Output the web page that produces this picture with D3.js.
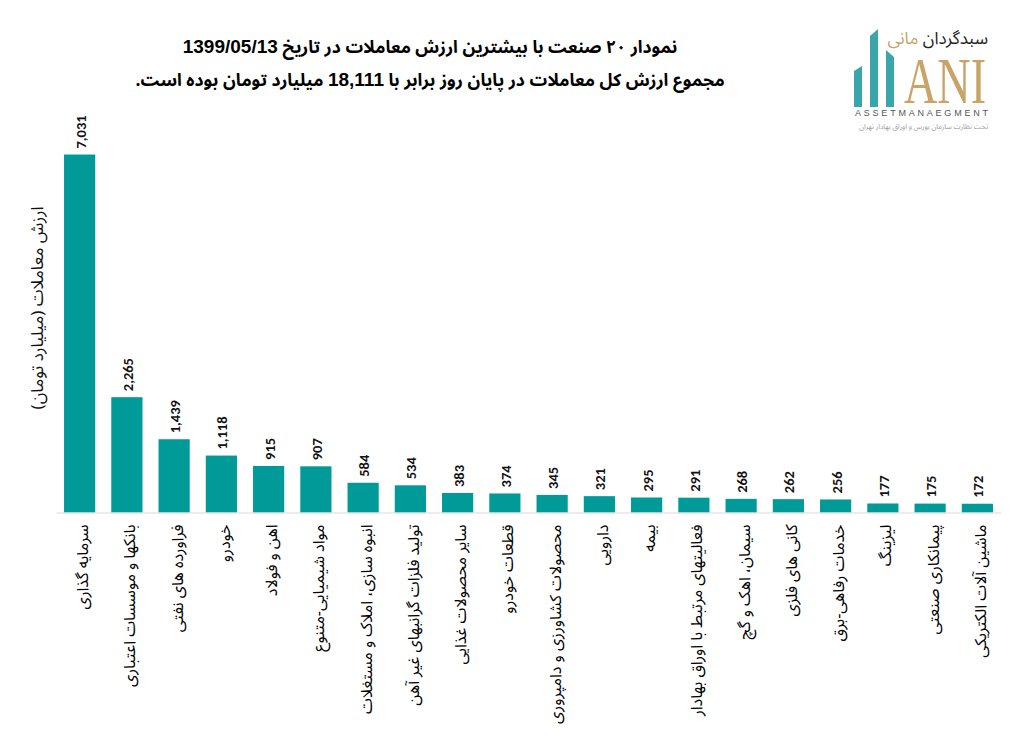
<!DOCTYPE html>
<html>
<head>
<meta charset="utf-8">
<script src="https://cdn.jsdelivr.net/npm/d3@7/dist/d3.min.js"></script>
<style>
  html, body { margin: 0; padding: 0; background: #fff; }
  svg { display: block; }
  .fa { font-family: "Noto Sans Arabic", "DejaVu Sans", "Noto Sans", sans-serif; }
</style>
</head>
<body>
<svg id="chart" width="1011" height="745"></svg>
<script>
const categories = [
  "سرمایه گذاری",
  "بانکها و موسسات اعتباری",
  "فراورده های نفتی",
  "خودرو",
  "اهن و فولاد",
  "مواد شیمیایی-متنوع",
  "انبوه سازی، املاک و مستغلات",
  "تولید فلزات گرانبهای غیر آهن",
  "سایر محصولات غذایی",
  "قطعات خودرو",
  "محصولات کشاورزی و دامپروری",
  "دارویی",
  "بیمه",
  "فعالیتهای مرتبط با اوراق بهادار",
  "سیمان، اهک و گچ",
  "کانی های فلزی",
  "خدمات رفاهی-برق",
  "لیزینگ",
  "پیمانکاری صنعتی",
  "ماشین آلات الکتریکی"
];
const values = [7031, 2265, 1439, 1118, 915, 907, 584, 534, 383, 374, 345, 321, 295, 291, 268, 262, 256, 177, 175, 172];
const yAxisTitle = "ارزش معاملات (میلیارد تومان)";
const titleLine1 = ["نمودار  ۲۰ صنعت با بیشترین ارزش معاملات در تاریخ ", "1399/05/13"];
const titleLine2 = ["مجموع ارزش  کل معاملات در پایان روز برابر با ", "18,111", " میلیارد تومان بوده است."];

const svg = d3.select("#chart");
const baseY = 512.5;

const x = d3.scaleBand().domain(categories).range([56, 1001]).paddingInner(0.34).paddingOuter(0.17);
const y = d3.scaleLinear().domain([0, 8000]).range([baseY, baseY - 407.3]);

// bars
svg.append("g").selectAll("rect").data(values).join("rect")
  .attr("x", (d, i) => x(categories[i]))
  .attr("width", x.bandwidth())
  .attr("y", d => y(d))
  .attr("height", d => y(0) - y(d))
  .attr("fill", "#009B98");

// baseline axis
const xAxis = d3.axisBottom(x).tickSize(0).tickFormat("");
const gx = svg.append("g").attr("transform", `translate(0,${baseY})`).call(xAxis);
gx.select(".domain").attr("stroke", "#d9d9d9").attr("stroke-width", 1.2);

// category labels
svg.append("g").selectAll("text").data(categories).join("text")
  .attr("class", "fa")
  .attr("transform", d => `translate(${x(d) + x.bandwidth() / 2 + 3},${baseY + 12}) rotate(-90)`)
  .attr("direction", "rtl")
  .attr("text-anchor", "start")
  .attr("dy", "0.35em")
  .style("font-size", "16px")
  .attr("fill", "#000")
  .text(d => d);

// value labels
const fmt = d3.format(",");
svg.append("g").selectAll("text").data(values).join("text")
  .attr("transform", (d, i) => `translate(${x(categories[i]) + x.bandwidth() / 2 + 1},${y(d) - 6}) rotate(-90)`)
  .attr("text-anchor", "start")
  .attr("dy", "0.35em")
  .style("font-family", "Calibri, Carlito, 'Liberation Sans', Arial, sans-serif")
  .style("font-size", "14.5px")
  .style("font-weight", "bold")
  .attr("fill", "#111")
  .text(d => fmt(d));

// y axis title
svg.append("text")
  .attr("class", "fa")
  .attr("transform", "translate(37,308) rotate(-90)")
  .attr("direction", "rtl")
  .attr("text-anchor", "middle")
  .attr("dy", "0.35em")
  .style("font-size", "17px")
  .attr("fill", "#111")
  .text(yAxisTitle);

// title
const t1 = svg.append("text").attr("class", "fa").attr("x", 430).attr("y", 53)
  .attr("direction", "rtl").attr("text-anchor", "middle")
  .style("font-size", "17.5px").style("font-weight", "bold").attr("fill", "#000");
t1.append("tspan").text(titleLine1[0]);
t1.append("tspan").style("font-family", "'Liberation Sans', Arial, sans-serif").style("font-size", "19px").text(titleLine1[1]);

const t2 = svg.append("text").attr("class", "fa").attr("x", 430).attr("y", 86)
  .attr("direction", "rtl").attr("text-anchor", "middle")
  .style("font-size", "17.5px").style("font-weight", "bold").attr("fill", "#000");
t2.append("tspan").text(titleLine2[0]);
t2.append("tspan").style("font-family", "'Liberation Sans', Arial, sans-serif").style("font-size", "19px").text(titleLine2[1]);
t2.append("tspan").text(titleLine2[2]);

// logo
const logo = svg.append("g");
const teal = "#3aa6ab";
logo.append("path").attr("fill", teal).attr("d", "M854,71 L862,66 L862,107 L854,107 Z");
logo.append("path").attr("fill", teal).attr("d", "M870,36 L878,29 L878,107 L870,107 Z");
logo.append("path").attr("fill", teal).attr("d", "M886,50 L894,57 L894,107 L886,107 Z");
logo.append("text").attr("transform", "translate(904,103) scale(0.7,1)")
  .style("font-family", "'Liberation Serif', 'DejaVu Serif', serif")
  .style("font-size", "66px").attr("fill", "#c9a469").text("ANI");
const lt = logo.append("text").attr("class", "fa").attr("x", 988).attr("y", 44)
  .attr("direction", "rtl").attr("text-anchor", "start")
  .style("font-size", "17px");
lt.append("tspan").attr("fill", "#222").text("سبدگردان ");
lt.append("tspan").attr("fill", "#c9a469").text("مانی");
logo.append("text").attr("x", 855).attr("y", 116)
  .attr("textLength", 133).attr("lengthAdjust", "spacing")
  .style("font-family", "'Liberation Sans', Arial, sans-serif")
  .style("font-size", "9px").attr("fill", "#555").text("ASSETMANAEGMENT");
logo.append("text").attr("class", "fa").attr("x", 988).attr("y", 129)
  .attr("direction", "rtl").attr("text-anchor", "start")
  .style("font-size", "7px").attr("fill", "#999").text("تحت نظارت سازمان بورس و اوراق بهادار تهران");
</script>
</body>
</html>
